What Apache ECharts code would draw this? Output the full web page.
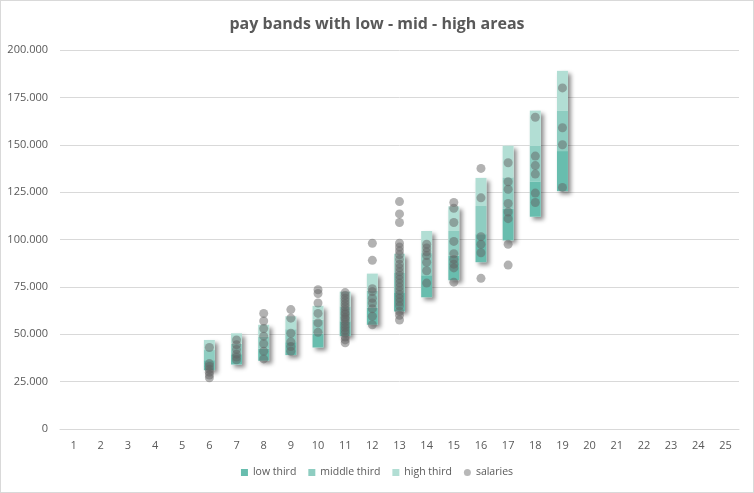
<!DOCTYPE html>
<html><head><meta charset="utf-8">
<script src="https://cdn.jsdelivr.net/npm/echarts@6/dist/echarts.min.js"></script>
<style>html,body{margin:0;padding:0;background:#fff}#c{width:754px;height:493px;box-sizing:border-box;border:1px solid #d9d9d9}</style>
</head><body><div id="c"></div>
<script>
var categories = ['1','2','3','4','5','6','7','8','9','10','11','12','13','14','15','16','17','18','19','20','21','22','23','24','25'];
var bandMin = [null,null,null,null,null,31000,34000,36000,39000,43000,49000,55000,62000,69500,78500,88000,99500,112000,125500,null,null,null,null,null,null];
var bandMax = [null,null,null,null,null,47000,50500,55000,59500,65000,72500,82000,92500,104500,117500,132500,149500,168000,189000,null,null,null,null,null,null];
var salaries6 = [43000,34500,33000,31500,30000,28500,27000];
var salaries7 = [47000,44500,42000,39500,38000,36500];
var salaries8 = [61000,57000,53000,49000,45000,41000,37000];
var salaries9 = [63000,58500,50500,46000,43500,41000];
var salaries10 = [73500,71500,66500,61000,56000,51000];
var salaries11 = [72000,70500,69000,67500,66000,64500,63000,61500,60500,59000,58000,56500,55000,53500,52000,50500,48500,47000,45500];
var salaries12 = [98000,89000,74000,72500,69000,66500,63500,59500,55000];
var salaries13 = [120000,113500,109000,98000,96000,94000,92000,89500,87000,85000,83000,81000,79000,77000,75000,73000,71000,69000,67000,65000,62000,60000,57500];
var salaries14 = [97500,95500,93500,91500,88000,83500,77000];
var salaries15 = [119500,116500,109000,99000,92500,89500,87000,85000,77500];
var salaries16 = [137500,122000,101500,97500,93000,79500];
var salaries17 = [140500,130500,126500,119000,114500,111000,97500,86500];
var salaries18 = [164500,144000,139000,134500,124500,119500];
var salaries19 = [180000,159000,150000,127500];
var yTicks = [0,25000,50000,75000,100000,125000,150000,175000,200000];

var salaryGroups = {'6':salaries6,'7':salaries7,'8':salaries8,'9':salaries9,'10':salaries10,'11':salaries11,'12':salaries12,'13':salaries13,'14':salaries14,'15':salaries15,'16':salaries16,'17':salaries17,'18':salaries18,'19':salaries19};
var scatterData = [];
Object.keys(salaryGroups).forEach(function(k){ salaryGroups[k].forEach(function(v){ scatterData.push([k, v]); }); });
var third = bandMin.map(function(m,i){ return m==null?null:(bandMax[i]-m)/3; });
var fullRange = bandMin.map(function(m,i){ return m==null?null:(bandMax[i]-m); });

var cLow='#68bdae', cMid='#8ecdc1', cHigh='#b2ded4';
var fmt = function(v){ return String(v).replace(/\B(?=(\d{3})+(?!\d))/g,'.'); };
var bw = 11;
var chart = echarts.init(document.getElementById('c'), null, {renderer:'canvas'});
chart.setOption({
  animation:false,
  title:{text:'pay bands with low - mid - high areas', left:'center', top:10,
    textStyle:{fontFamily:'Open Sans', fontSize:16, fontWeight:'bold', color:'#595959'}},
  legend:{bottom:9, left:'center', itemWidth:7, itemHeight:7, itemGap:12,
    textStyle:{fontFamily:'Open Sans', fontSize:10.5, color:'#595959'},
    data:[{name:'low third',icon:'rect'},{name:'middle third',icon:'rect'},{name:'high third',icon:'rect'},{name:'salaries',icon:'circle',itemStyle:{color:'#a6a6a6'}}]},
  grid:{left:59, right:14, top:49, bottom:63},
  xAxis:{type:'category', data:categories, boundaryGap:true,
    axisLine:{lineStyle:{color:'#d9d9d9'}}, axisTick:{show:false},
    axisLabel:{fontFamily:'Open Sans', fontSize:11, color:'#595959', margin:11}},
  yAxis:{type:'value', min:0, max:200000, interval:25000,
    axisLine:{show:false}, axisTick:{show:false},
    splitLine:{lineStyle:{color:'#d9d9d9'}},
    axisLabel:{fontFamily:'Open Sans', fontSize:11, color:'#595959', margin:12, formatter:fmt}},
  series:[
    {name:'shadowBase', type:'bar', stack:'s', barWidth:bw, barGap:'-100%', data:bandMin, itemStyle:{color:'rgba(0,0,0,0)'}, silent:true, z:1},
    {name:'shadow', type:'bar', stack:'s', barWidth:bw, barGap:'-100%', data:fullRange, silent:true, z:1,
      itemStyle:{color:'#ffffff', shadowColor:'rgba(0,0,0,0.45)', shadowBlur:4, shadowOffsetX:3, shadowOffsetY:3}},
    {name:'base', type:'bar', stack:'a', barWidth:bw, barGap:'-100%', data:bandMin, itemStyle:{color:'rgba(0,0,0,0)'}, silent:true, z:2},
    {name:'low third', type:'bar', stack:'a', barWidth:bw, barGap:'-100%', data:third, itemStyle:{color:cLow}, z:2},
    {name:'middle third', type:'bar', stack:'a', barWidth:bw, barGap:'-100%', data:third, itemStyle:{color:cMid}, z:2},
    {name:'high third', type:'bar', stack:'a', barWidth:bw, barGap:'-100%', data:third, itemStyle:{color:cHigh}, z:2},
    {name:'salaries', type:'scatter', data:scatterData, symbolSize:9, z:3,
      itemStyle:{color:'rgba(100,100,100,0.62)'}}
  ]
});
</script></body></html>
